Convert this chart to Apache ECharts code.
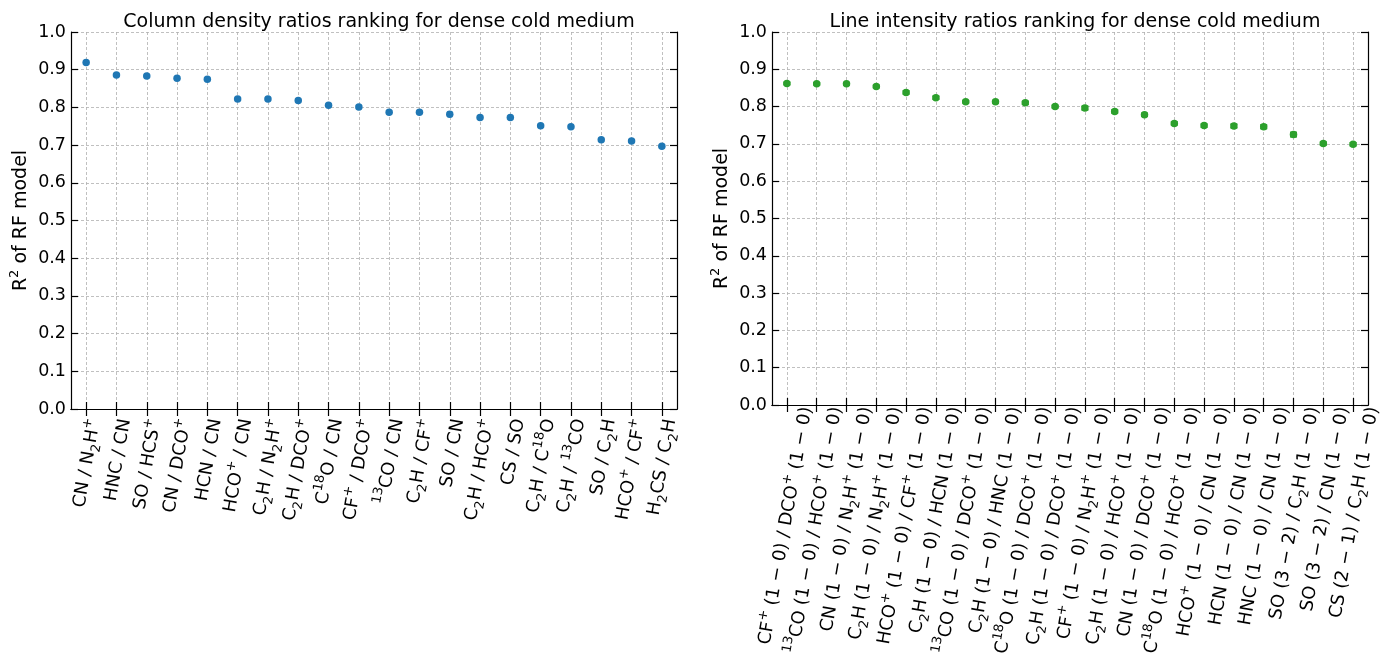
<!DOCTYPE html>
<html><head><meta charset="utf-8">
<script src="https://cdn.jsdelivr.net/npm/echarts@6/dist/echarts.min.js"></script>
<style>html,body{margin:0;padding:0;background:#fff}#c{width:1392px;height:659px}</style>
</head><body><div id="c"></div>
<script>
// ---- data ----
const leftTitle = 'Column density ratios ranking for dense cold medium';
const rightTitle = 'Line intensity ratios ranking for dense cold medium';
const yAxisName = 'R{sup|2} of RF model';
const leftCategories = [
  'CN / N{sub|2}H{sup|+}', 'HNC / CN', 'SO / HCS{sup|+}', 'CN / DCO{sup|+}', 'HCN / CN',
  'HCO{sup|+} / CN', 'C{sub|2}H / N{sub|2}H{sup|+}', 'C{sub|2}H / DCO{sup|+}', 'C{sup|18}O / CN', 'CF{sup|+} / DCO{sup|+}',
  '{sup|13}CO / CN', 'C{sub|2}H / CF{sup|+}', 'SO / CN', 'C{sub|2}H / HCO{sup|+}', 'CS / SO',
  'C{sub|2}H / C{sup|18}O', 'C{sub|2}H / {sup|13}CO', 'SO / C{sub|2}H', 'HCO{sup|+} / CF{sup|+}', 'H{sub|2}CS / C{sub|2}H'
];
const leftValues = [0.919, 0.886, 0.883, 0.877, 0.875, 0.822, 0.822, 0.818, 0.806, 0.801,
                    0.787, 0.787, 0.782, 0.773, 0.773, 0.751, 0.749, 0.714, 0.711, 0.697];
const leftErrors = [0.002, 0.002, 0.002, 0.002, 0.002, 0.003, 0.002, 0.004, 0.004, 0.004,
                    0.002, 0.003, 0.006, 0.002, 0.002, 0.003, 0.004, 0.004, 0.004, 0.002];
const rightCategories = [
  'CF{sup|+} (1 − 0) / DCO{sup|+} (1 − 0)', '{sup|13}CO (1 − 0) / HCO{sup|+} (1 − 0)', 'CN (1 − 0) / N{sub|2}H{sup|+} (1 − 0)',
  'C{sub|2}H (1 − 0) / N{sub|2}H{sup|+} (1 − 0)', 'HCO{sup|+} (1 − 0) / CF{sup|+} (1 − 0)', 'C{sub|2}H (1 − 0) / HCN (1 − 0)',
  '{sup|13}CO (1 − 0) / DCO{sup|+} (1 − 0)', 'C{sub|2}H (1 − 0) / HNC (1 − 0)', 'C{sup|18}O (1 − 0) / DCO{sup|+} (1 − 0)',
  'C{sub|2}H (1 − 0) / DCO{sup|+} (1 − 0)', 'CF{sup|+} (1 − 0) / N{sub|2}H{sup|+} (1 − 0)', 'C{sub|2}H (1 − 0) / HCO{sup|+} (1 − 0)',
  'CN (1 − 0) / DCO{sup|+} (1 − 0)', 'C{sup|18}O (1 − 0) / HCO{sup|+} (1 − 0)', 'HCO{sup|+} (1 − 0) / CN (1 − 0)',
  'HCN (1 − 0) / CN (1 − 0)', 'HNC (1 − 0) / CN (1 − 0)', 'SO (3 − 2) / C{sub|2}H (1 − 0)',
  'SO (3 − 2) / CN (1 − 0)', 'CS (2 − 1) / C{sub|2}H (1 − 0)'
];
const rightValues = [0.862, 0.861, 0.861, 0.854, 0.838, 0.824, 0.813, 0.813, 0.810, 0.800,
                     0.796, 0.787, 0.778, 0.755, 0.749, 0.748, 0.746, 0.725, 0.701, 0.699];
const rightErrors = [0.003, 0.003, 0.003, 0.003, 0.004, 0.004, 0.003, 0.003, 0.004, 0.003,
                     0.005, 0.004, 0.004, 0.004, 0.004, 0.005, 0.005, 0.006, 0.004, 0.004];
const yMin = 0, yMax = 1, yStep = 0.1;

// ---- styling ----
const FONT = 'DejaVu Sans';
const BLUE = '#1f77b4', GREEN = '#2ca02c';
const rich = {
  sub: {fontFamily: FONT, fontSize: 13, lineHeight: 13, verticalAlign: 'bottom', color: '#000'},
  sup: {fontFamily: FONT, fontSize: 13, lineHeight: 13, verticalAlign: 'top', color: '#000'}
};
const gridLine = {type: [3, 2], color: '#b0b0b0', width: 0.8};
const axisBlack = {color: '#000', width: 1.2};

const L = {left: 71, right: 1392 - 677, top: 32, bottom: 659 - 409, shift: 9};
const R = {left: 772, right: 1392 - 1368, top: 32, bottom: 659 - 405, shift: 20};

function grids(g) {
  return [
    {left: g.left, right: g.right, top: g.top, bottom: g.bottom},
    {left: g.left + g.shift, right: g.right - g.shift, top: g.top, bottom: g.bottom, show: false}
  ];
}
function xAxes(cats, gi) {
  return [
    {type: 'category', data: cats, gridIndex: gi, position: 'bottom',
     axisLine: {show: true, lineStyle: axisBlack},
     axisTick: {show: true, inside: true, alignWithLabel: true, interval: 0, length: 7, lineStyle: axisBlack},
     axisLabel: {show: false},
     splitLine: {show: true, alignWithLabel: true, interval: 0, lineStyle: gridLine}},
    {type: 'category', data: cats, gridIndex: gi, position: 'top',
     axisLine: {show: true, lineStyle: axisBlack},
     axisTick: {show: true, inside: true, alignWithLabel: true, interval: 0, length: 7, lineStyle: axisBlack},
     axisLabel: {show: false}, splitLine: {show: false}},
    {type: 'category', data: cats, gridIndex: gi + 1, position: 'bottom',
     axisLine: {show: false}, axisTick: {show: false}, splitLine: {show: false},
     axisLabel: {show: true, interval: 0, rotate: 80, margin: 10, fontFamily: FONT, fontSize: 18,
                 lineHeight: 26, color: '#000', rich: rich}}
  ];
}
function yAxes(gi) {
  const base = {type: 'value', min: yMin, max: yMax, interval: yStep};
  return [
    Object.assign({}, base, {gridIndex: gi, position: 'left',
      name: yAxisName, nameLocation: 'middle', nameGap: 34, nameRotate: 90,
      nameTextStyle: {fontFamily: FONT, fontSize: 19, color: '#000', lineHeight: 26,
        rich: {sup: {fontFamily: FONT, fontSize: 13, lineHeight: 13, verticalAlign: 'top', color: '#000'}}},
      axisLine: {show: true, lineStyle: axisBlack},
      axisTick: {show: true, inside: true, length: 7, lineStyle: axisBlack},
      axisLabel: {show: true, margin: 5, fontFamily: FONT, fontSize: 17.5, color: '#000',
                  formatter: v => v.toFixed(1)},
      splitLine: {show: true, lineStyle: gridLine}}),
    Object.assign({}, base, {gridIndex: gi, position: 'right',
      axisLine: {show: true, lineStyle: axisBlack},
      axisTick: {show: true, inside: true, length: 7, lineStyle: axisBlack},
      axisLabel: {show: false}, splitLine: {show: false}}),
    Object.assign({}, base, {gridIndex: gi + 1, show: false})
  ];
}
function errRender(capW) {
  return function (params, api) {
    const x = api.value(0), y = api.value(1), e = api.value(2);
    const p1 = api.coord([x, y + e]), p2 = api.coord([x, y - e]);
    const style = {stroke: api.visual('color'), lineWidth: 1.5};
    return {type: 'group', children: [
      {type: 'line', shape: {x1: p1[0], y1: p1[1], x2: p2[0], y2: p2[1]}, style: style},
      {type: 'line', shape: {x1: p1[0] - capW, y1: p1[1], x2: p1[0] + capW, y2: p1[1]}, style: style},
      {type: 'line', shape: {x1: p2[0] - capW, y1: p2[1], x2: p2[0] + capW, y2: p2[1]}, style: style}
    ]};
  };
}

const option = {
  animation: false,
  backgroundColor: '#fff',
  title: [
    {text: leftTitle, left: (L.left + 677) / 2, top: 8, textAlign: 'center',
     textStyle: {fontFamily: FONT, fontSize: 19, fontWeight: 'normal', color: '#000'}},
    {text: rightTitle, left: (R.left + 1368) / 2, top: 8, textAlign: 'center',
     textStyle: {fontFamily: FONT, fontSize: 19, fontWeight: 'normal', color: '#000'}}
  ],
  grid: grids(L).concat(grids(R)),
  xAxis: xAxes(leftCategories, 0).concat(xAxes(rightCategories, 2)),
  yAxis: yAxes(0).concat(yAxes(2)),
  series: [
    {type: 'custom', xAxisIndex: 0, yAxisIndex: 0, itemStyle: {color: BLUE}, z: 2,
     encode: {x: 0, y: 1}, renderItem: errRender(2.5),
     data: leftValues.map((v, i) => [i, v, leftErrors[i]])},
    {type: 'scatter', xAxisIndex: 0, yAxisIndex: 0, symbol: 'circle', symbolSize: 7.5, z: 3,
     itemStyle: {color: BLUE, opacity: 1}, data: leftValues},
    {type: 'custom', xAxisIndex: 3, yAxisIndex: 3, itemStyle: {color: GREEN}, z: 2,
     encode: {x: 0, y: 1}, renderItem: errRender(3.5),
     data: rightValues.map((v, i) => [i, v, rightErrors[i]])},
    {type: 'scatter', xAxisIndex: 3, yAxisIndex: 3, symbol: 'circle', symbolSize: 7.5, z: 3,
     itemStyle: {color: GREEN, opacity: 1}, data: rightValues}
  ]
};
const chart = echarts.init(document.getElementById('c'), null, {renderer: 'canvas'});
chart.setOption(option);
</script>
</body></html>
